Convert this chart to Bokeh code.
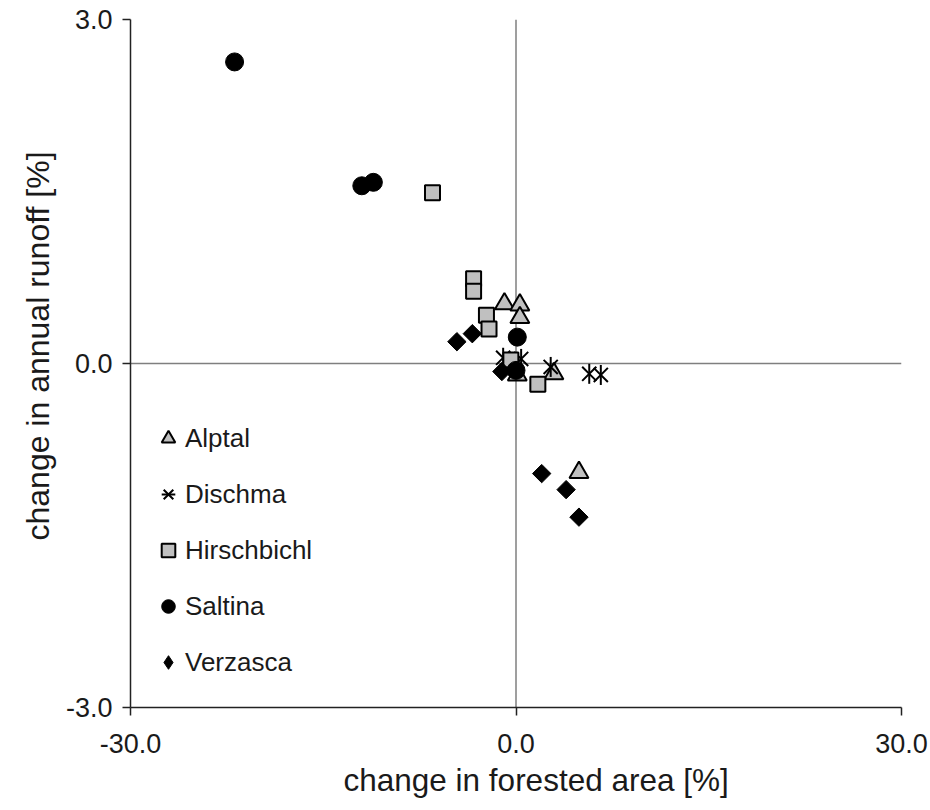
import math
from bokeh.plotting import figure
from bokeh.models import Range1d, FixedTicker, NumeralTickFormatter, Span, Legend, LegendItem, Title
from bokeh.embed import file_html
from bokeh.resources import INLINE

# ---- data ----
alptal_x = [-0.9, 0.3, 0.3, 0.1, 2.95, 4.9]
alptal_y = [0.52, 0.51, 0.40, -0.10, -0.09, -0.95]

dischma_x = [-1.0, 0.4, 2.7, 5.7, 6.6]
dischma_y = [0.05, 0.04, -0.03, -0.09, -0.10]

hirsch_x = [-6.5, -3.3, -3.3, -2.3, -2.1, -0.4, 1.7]
hirsch_y = [1.49, 0.74, 0.63, 0.42, 0.30, 0.03, -0.18]

saltina_x = [-21.9, -12.0, -11.1, 0.1, 0.0]
saltina_y = [2.63, 1.55, 1.58, 0.23, -0.06]

verz_x = [-4.6, -3.4, -1.1, 2.0, 3.9, 4.9]
verz_y = [0.19, 0.26, -0.07, -0.96, -1.10, -1.34]

x_ticks = [-30, 0, 30]
y_ticks = [-3, 0, 3]
x_title = "change in forested area [%]"
y_title = "change in annual runoff [%]"

FONT = "Liberation Sans"
TXT = "#1a1a1a"

p = figure(width=930, height=810, output_backend="svg", toolbar_location=None,
           x_range=Range1d(-30, 30), y_range=Range1d(-3, 3),
           min_border_left=130, min_border_right=29, min_border_top=19, min_border_bottom=103)
p.outline_line_color = None
p.xgrid.visible = False
p.ygrid.visible = False
p.background_fill_color = "white"
p.border_fill_color = "white"

for ax in (p.xaxis[0], p.yaxis[0]):
    ax.axis_line_color = "#222222"
    ax.axis_line_width = 1.5
    ax.major_tick_line_color = "#222222"
    ax.major_tick_line_width = 1.5
    ax.major_tick_out = 8
    ax.major_tick_in = 0
    ax.minor_tick_line_color = None
    ax.major_label_text_font = FONT
    ax.major_label_text_font_size = "27px"
    ax.major_label_text_color = TXT
    ax.formatter = NumeralTickFormatter(format="0.0")

p.xaxis[0].ticker = FixedTicker(ticks=x_ticks)
p.yaxis[0].ticker = FixedTicker(ticks=y_ticks)
p.xaxis[0].major_label_standoff = 18
p.yaxis[0].major_label_standoff = 10

# axis titles as Title annotations in the side panels
p.add_layout(Title(text=x_title, align="left", offset=213, standoff=8, text_font=FONT,
                   text_font_size="31.5px", text_font_style="normal", text_color=TXT), "below")
p.add_layout(Title(text=y_title, align="left", offset=167, standoff=13, text_font=FONT,
                   text_font_size="32px", text_font_style="normal", text_color=TXT), "left")

p.add_layout(Span(location=0, dimension="height", line_color="#7f7f7f", line_width=1.5, level="underlay"))
p.add_layout(Span(location=0, dimension="width", line_color="#7f7f7f", line_width=1.5, level="underlay"))

r_a = p.scatter(alptal_x, alptal_y, marker="triangle", size=19, fill_color="#c0c0c0",
                line_color="black", line_width=2)
r_d1 = p.scatter(dischma_x, dischma_y, marker="x", size=20, line_color="black", line_width=2)
r_d2 = p.scatter(dischma_x, dischma_y, marker="dash", angle=math.pi / 2, size=20,
                 line_color="black", line_width=2)
r_h = p.scatter(hirsch_x, hirsch_y, marker="square", size=15, fill_color="#c0c0c0",
                line_color="black", line_width=2)
r_s = p.scatter(saltina_x, saltina_y, marker="circle", size=18, fill_color="black",
                line_color="black", line_width=1)
r_v = p.scatter(verz_x, verz_y, marker="square", angle=math.pi / 4, size=13, fill_color="black",
                line_color="black", line_width=1)
# legend-only glyph for the diamond symbol (legend ignores marker angle); never drawn in the plot
r_v_leg = p.scatter([float("nan")], [float("nan")], marker="diamond", size=16, fill_color="black",
                    line_color="black", line_width=1)

legend = Legend(items=[
    LegendItem(label="Alptal", renderers=[r_a]),
    LegendItem(label="Dischma", renderers=[r_d1, r_d2]),
    LegendItem(label="Hirschbichl", renderers=[r_h]),
    LegendItem(label="Saltina", renderers=[r_s]),
    LegendItem(label="Verzasca", renderers=[r_v_leg]),
], location=(21, 26))
legend.border_line_color = None
legend.background_fill_alpha = 0
legend.padding = 0
legend.margin = 0
legend.glyph_width = 34
legend.glyph_height = 38
legend.label_height = 30
legend.label_standoff = 0
legend.spacing = 18
legend.label_text_font = FONT
legend.label_text_font_size = "26px"
legend.label_text_color = TXT
p.add_layout(legend, "center")

open("out.html", "w").write(file_html(p, INLINE))
